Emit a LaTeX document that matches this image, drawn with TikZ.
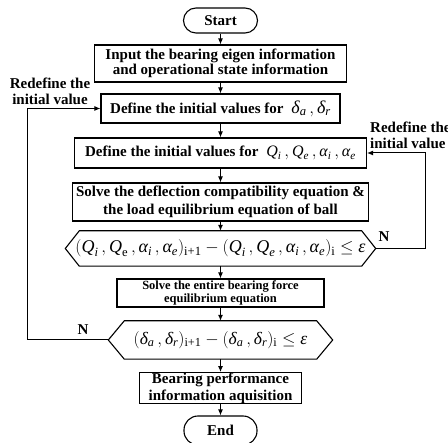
\documentclass[tikz,border=0pt]{standalone}
\usepackage{amsmath}
\usepackage{fontspec}
\setmainfont{Liberation Serif}
\usetikzlibrary{arrows.meta}
\newcommand\mi[1]{\textit{#1}}
\newcommand\mr[1]{\textup{#1}}
\begin{document}
\begin{tikzpicture}[x=1pt,y=-1pt,
  box/.style={draw, line width=1.1pt, inner sep=0pt, align=center,
    font=\fontsize{15}{15}\selectfont\bfseries},
  term/.style={box, rounded corners=12.5pt},
  hexa/.style={inner sep=0pt, font=\fontsize{18}{18}\selectfont},
  lbl/.style={inner sep=0pt, align=center, font=\fontsize{15}{16}\selectfont\bfseries},
  arr/.style={-{Latex[length=6pt,width=5pt]}, line width=1pt}]
\useasboundingbox (0,0) rectangle (448,443);
\node[term, minimum width=74, minimum height=25] (start) at (220.5,20.5) {Start};
\node[box, minimum width=252, minimum height=37] (b1) at (220.5,63.5)
  {Input the bearing eigen information\\and operational state information};
\node[box, minimum width=239, minimum height=29] (b2) at (220.5,108.5)
  {Define the initial values for\; {\mdseries\fontsize{18}{18}\selectfont$\mi{δ}_{\mi{a}}\,,\mi{δ}_{\mi{r}}$}};
\node[box, minimum width=292, minimum height=30] (b3) at (220.5,153)
  {Define the initial values for\; {\mdseries\fontsize{16}{16}\selectfont$\mi{Q}_{\mi{i}}\,,\mi{Q}_{\mi{e}}\,,\mi{α}_{\mi{i}}\,,\mi{α}_{\mi{e}}$}};
\node[box, minimum width=296, minimum height=38, font=\fontsize{15}{18}\selectfont\bfseries] (b4) at (220.5,202)
  {Solve the deflection compatibility equation \&\\the load equilibrium equation of ball};
\node[hexa, minimum width=310, minimum height=35] (h1) at (220.5,248.5)
  {$(\mi{Q}_{\mi{i}}\,,\mi{Q}_{\mr{e}}\,,\mi{α}_{\mi{i}}\,,\mi{α}_{\mi{e}})_{\mr{i+1}}-(\mi{Q}_{\mi{i}}\,,\mi{Q}_{\mi{e}}\,,\mi{α}_{\mi{i}}\,,\mi{α}_{\mi{e}})_{\mr{i}}\le\mi{ε}$};
\node[box, minimum width=207, minimum height=28, font=\fontsize{12.5}{13}\selectfont\bfseries] (b5) at (220.5,293)
  {Solve the entire bearing force\\equilibrium equation};
\node[hexa, minimum width=224, minimum height=38, font=\fontsize{17.5}{18}\selectfont] (h2) at (220.5,340)
  {$(\mi{δ}_{\mi{a}}\,,\mi{δ}_{\mi{r}})_{\mr{i+1}}-(\mi{δ}_{\mi{a}}\,,\mi{δ}_{\mi{r}})_{\mr{i}}\le\mi{ε}$};
\node[box, minimum width=162, minimum height=30, font=\fontsize{15}{17}\selectfont\bfseries] (b6) at (220.5,388)
  {Bearing performance\\information aquisition};
\node[term, minimum width=73, minimum height=29, rounded corners=14pt] (end) at (220.5,430.5) {End};
% hexagon outlines
\foreach \h/\d in {h1/14,h2/16}{
  \draw[line width=1.1pt] (\h.west) -- ([xshift=\d]\h.north west) -- ([xshift=-\d]\h.north east)
    -- (\h.east) -- ([xshift=-\d]\h.south east) -- ([xshift=\d]\h.south west) -- cycle;
}
% main flow
\foreach \a/\b in {start/b1,b1/b2,b2/b3,b3/b4,b4/h1,h1/b5,b5/h2,h2/b6,b6/end}{
  \draw[arr] (\a.south) -- (\b.north);
}
% feedback loops
\coordinate (lx) at (27,0);
\coordinate (rx) at (425,0);
\draw[arr] (h2.west) -- (h2.west -| lx) |- (b2.west);
\draw[arr] (h1.east) -- (h1.east -| rx) |- (b3.east);
% labels
\node[lbl] (ll) at (50,91.5) {Redefine the\\initial value};
\node[lbl, anchor=west, align=left] (rl) at (370,135) {Redefine the\\initial value};
\node[lbl] (n1) at (384,237) {N};
\node[lbl] (n2) at (83,330) {N};
\end{tikzpicture}
\end{document}
